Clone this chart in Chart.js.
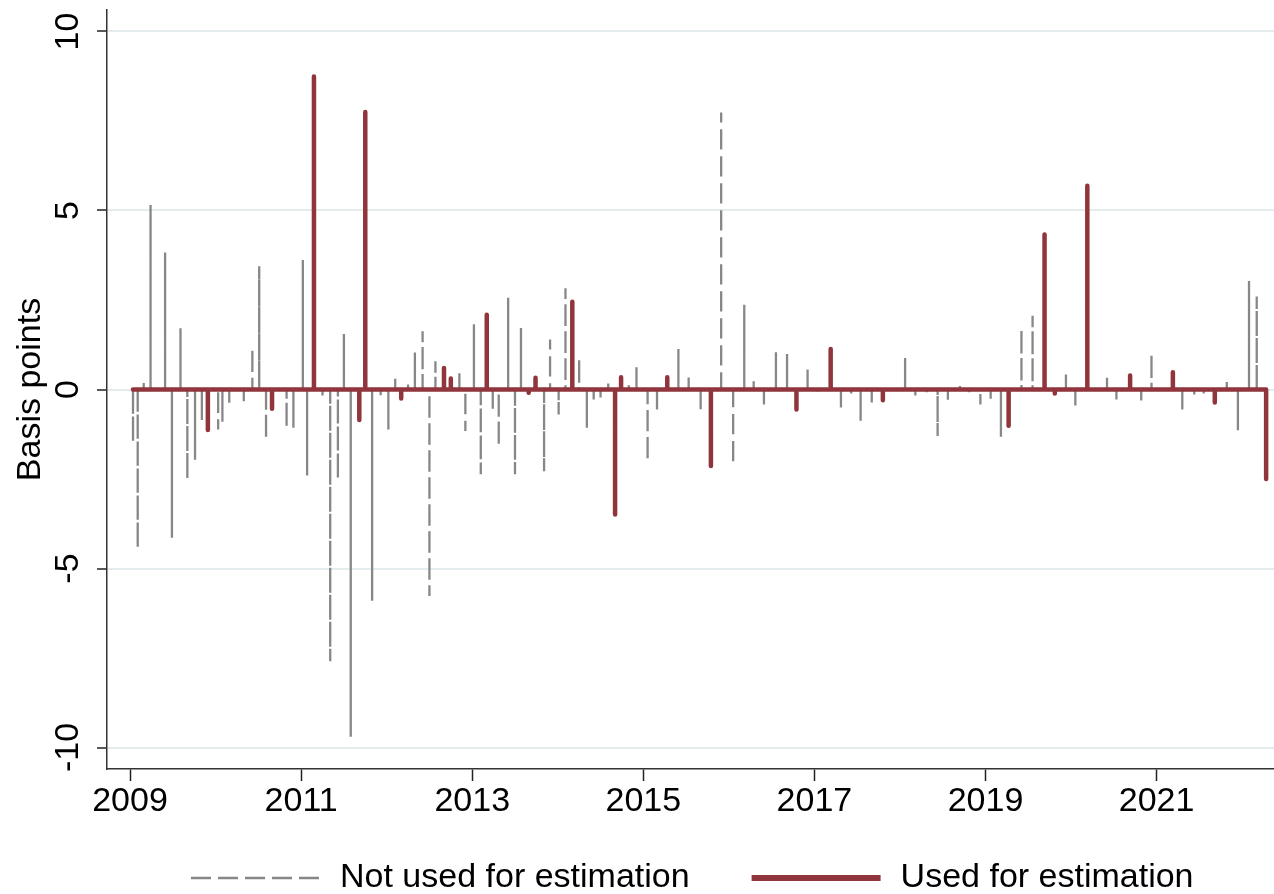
<!DOCTYPE html>
<html>
<head>
<meta charset="utf-8">
<script src="https://cdn.jsdelivr.net/npm/chart.js@4.4.1/dist/chart.umd.min.js"></script>
<style>
  html, body { margin: 0; padding: 0; background: #ffffff; }
  #wrap { width: 1274px; height: 894px; }
</style>
</head>
<body>
<div id="wrap"><canvas id="surprises" width="1274" height="894"></canvas></div>
<script>
// Announcement dates (decimal years) and the measured surprise in basis points.
const notUsedDates = [
  2009.035, 2009.09, 2009.16, 2009.24, 2009.33, 2009.41, 2009.49, 2009.59, 2009.67, 2009.76, 2009.84,
  2010.03, 2010.08, 2010.16, 2010.33, 2010.43, 2010.51, 2010.59, 2010.83, 2010.91,
  2011.02, 2011.07, 2011.25, 2011.34, 2011.43, 2011.50, 2011.58, 2011.83, 2011.93,
  2012.02, 2012.10, 2012.25, 2012.33, 2012.42, 2012.50, 2012.57, 2012.85, 2012.92,
  2013.02, 2013.10, 2013.24, 2013.31, 2013.42, 2013.50, 2013.57, 2013.84, 2013.91,
  2014.01, 2014.09, 2014.25, 2014.34, 2014.42, 2014.50, 2014.59, 2014.83, 2014.92,
  2015.05, 2015.16, 2015.41, 2015.53, 2015.67, 2015.91,
  2016.05, 2016.18, 2016.29, 2016.41, 2016.55, 2016.68, 2016.92,
  2017.04, 2017.31, 2017.43, 2017.54, 2017.67,
  2018.06, 2018.18, 2018.31, 2018.44, 2018.56, 2018.70, 2018.81, 2018.94,
  2019.06, 2019.18, 2019.42, 2019.55, 2019.94,
  2020.05, 2020.42, 2020.53, 2020.82, 2020.94,
  2021.30, 2021.44, 2021.55, 2021.82, 2021.95,
  2022.08, 2022.17
];
const notUsedBp = [
  -1.47, -4.43, 0.18, 5.15, -0.07, 3.83, -4.14, 1.71, -2.5, -1.96, -0.85,
  -1.12, -0.9, -0.37, -0.33, 1.16, 3.44, -1.39, -1.07, -1.07,
  3.62, -2.4, -0.17, -7.59, -2.5, 1.55, -9.7, -5.9, -0.16,
  -1.12, 0.3, 0.14, 1.03, 1.63, -5.77, 0.79, 0.51, -1.16,
  1.82, -2.37, -0.56, -1.58, 2.56, -2.37, 1.72, -2.28, 1.4,
  -0.7, 2.83, 0.88, -1.07, -0.28, -0.22, 0.17, 0.12, 0.67,
  -2.0, -0.56, 1.13, 0.34, -0.55, 7.74,
  -2.1, 2.37, 0.23, -0.42, 1.04, 0.99, 0.56,
  -0.14, -0.5, -0.18, -0.87, -0.36,
  0.88, -0.17, -0.08, -1.3, -0.3, 0.1, -0.08, -0.42,
  -0.26, -1.32, 1.7, 2.06, 0.48,
  -0.45, 0.33, -0.33, -0.31, 1.01,
  -0.56, -0.14, -0.11, 0.21, -1.14,
  3.03, 2.6
];
const usedDates = [
  2009.91, 2010.66, 2011.15, 2011.68, 2011.75, 2012.17, 2012.67, 2012.75, 2013.17,
  2013.66, 2013.74, 2014.17, 2014.67, 2014.74, 2015.28, 2015.79, 2016.79, 2017.19,
  2017.80, 2019.27, 2019.69, 2019.81, 2020.19, 2020.69, 2021.19, 2021.68, 2022.28
];
const usedBp = [
  -1.13, -0.54, 8.74, -0.85, 7.75, -0.25, 0.6, 0.31, 2.09,
  -0.09, 0.33, 2.45, -3.49, 0.34, 0.34, -2.14, -0.56, 1.13,
  -0.3, -1.01, 4.33, -0.11, 5.69, 0.39, 0.48, -0.36, -2.5
];
const sampleStart = 2009.035;
const seriesNames = ['Not used for estimation', 'Used for estimation'];
const xTickYears = [2009, 2011, 2013, 2015, 2017, 2019, 2021];
const yTickValues = [-10, -5, 0, 5, 10];

const FONT = "'Liberation Sans', Arial, Helvetica, sans-serif";

// A daily series that is zero except on announcement days: each event becomes
// a vertical spike out of the zero line and back.
function spikePath(dates, values, start) {
  const pts = [];
  if (start !== undefined) pts.push({ x: start, y: 0 });
  dates.forEach((d, i) => {
    pts.push({ x: d, y: 0 }, { x: d, y: values[i] }, { x: d, y: 0 });
  });
  return pts;
}

// Legend row under the plot.
const bottomKey = {
  id: 'bottomKey',
  afterDraw(chart, args, opts) {
    const { ctx, chartArea } = chart;
    ctx.save();
    ctx.font = opts.fontSize + 'px ' + FONT;
    const items = opts.order.map(i => chart.data.datasets[i]);
    let x = chartArea.left + opts.startOffset;
    const y = opts.y;
    items.forEach((ds, i) => {
      ctx.beginPath();
      ctx.setLineDash(ds.borderDash || []);
      ctx.lineCap = 'butt';
      ctx.lineWidth = opts.lineWidths[i];
      ctx.strokeStyle = ds.borderColor;
      ctx.moveTo(x, y);
      ctx.lineTo(x + opts.sampleLength, y);
      ctx.stroke();
      ctx.setLineDash([]);
      x += opts.sampleLength + opts.textGap;
      ctx.fillStyle = '#000000';
      ctx.textAlign = 'left';
      ctx.textBaseline = 'middle';
      ctx.fillText(ds.label, x, y);
      x += ctx.measureText(ds.label).width + opts.itemSpacing;
    });
    ctx.restore();
  }
};

new Chart(document.getElementById('surprises'), {
  type: 'line',
  data: {
    datasets: [
      {
        label: seriesNames[0],
        data: spikePath(notUsedDates, notUsedBp),
        borderColor: '#878787',
        borderWidth: 2.3,
        borderDash: [20, 7],
        borderCapStyle: 'butt',
        borderJoinStyle: 'miter',
        order: 2
      },
      {
        label: seriesNames[1],
        data: spikePath(usedDates, usedBp, sampleStart),
        borderColor: '#90353b',
        borderWidth: 4.5,
        borderCapStyle: 'round',
        borderJoinStyle: 'round',
        order: 1
      }
    ]
  },
  options: {
    responsive: false,
    animation: false,
    parsing: false,
    layout: { padding: { top: 10, right: 0, bottom: 40, left: 0 } },
    elements: {
      point: { radius: 0, hoverRadius: 0 },
      line: { tension: 0, fill: false }
    },
    plugins: {
      legend: { display: false },
      tooltip: { enabled: false },
      bottomKey: {
        order: [0, 1],
        fontSize: 34,
        sampleLength: 129,
        textGap: 20,
        itemSpacing: 62,
        lineWidths: [2.5, 6],
        startOffset: 84,
        y: 878
      }
    },
    scales: {
      x: {
        type: 'linear',
        min: 2008.731,
        max: 2022.372,
        afterFit(scale) {
          scale.height = 85;
          scale.paddingLeft = 0;
          scale.paddingRight = 0;
        },
        afterBuildTicks(scale) { scale.ticks = xTickYears.map(v => ({ value: v })); },
        grid: {
          drawOnChartArea: false,
          drawTicks: true,
          tickLength: 12,
          tickColor: '#222222',
          tickWidth: 1.5
        },
        border: { display: true, color: '#333333', width: 1.5 },
        ticks: {
          padding: 0,
          maxRotation: 0,
          minRotation: 0,
          autoSkip: false,
          color: '#000000',
          font: { family: FONT, size: 34 },
          callback: v => String(v)
        }
      },
      y: {
        type: 'linear',
        min: -10.6,
        max: 10.6,
        afterFit(scale) {
          scale.width = 107;
          scale.paddingTop = 0;
          scale.paddingBottom = 0;
        },
        afterBuildTicks(scale) { scale.ticks = yTickValues.map(v => ({ value: v })); },
        grid: {
          color: '#e4ecee',
          lineWidth: 2,
          drawTicks: true,
          tickLength: 10,
          tickColor: '#222222',
          tickWidth: 1.5
        },
        border: { display: true, color: '#333333', width: 1.5 },
        ticks: {
          padding: 4,
          minRotation: 90,
          maxRotation: 90,
          crossAlign: 'center',
          autoSkip: false,
          color: '#000000',
          font: { family: FONT, size: 34 },
          callback: v => String(v)
        },
        title: {
          display: true,
          text: 'Basis points',
          color: '#000000',
          font: { family: FONT, size: 34 },
          padding: { top: 10, bottom: 0 }
        }
      }
    }
  },
  plugins: [bottomKey]
});
</script>
</body>
</html>
